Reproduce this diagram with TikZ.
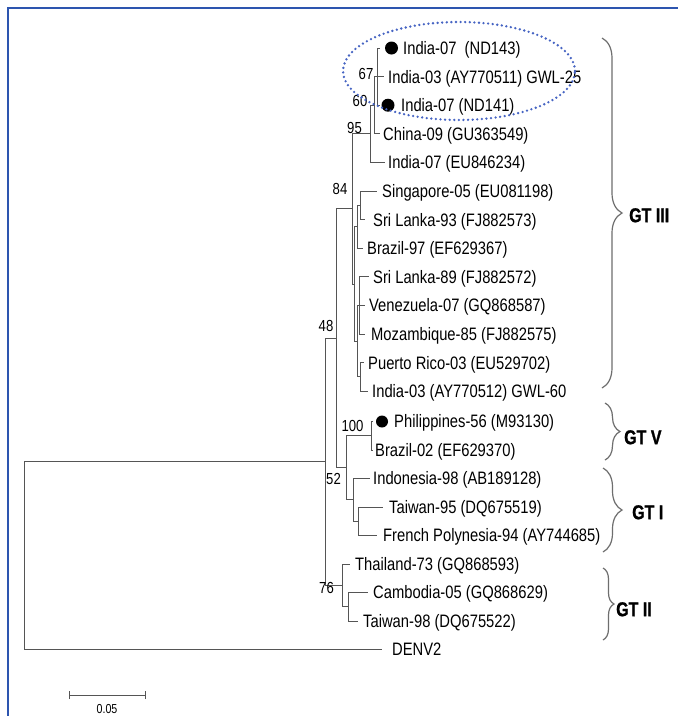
\documentclass[tikz,border=0pt]{standalone}
\usepackage{fontspec}
\setmainfont{Liberation Sans}
\newfontfamily\narrowfont{Liberation Sans}[FakeStretch=0.82]
\newfontfamily\gtfont{Liberation Sans Bold}[FakeStretch=0.80,FakeBold=1.2]
\usetikzlibrary{decorations.pathreplacing}
\definecolor{framebl}{RGB}{45,85,175}
\definecolor{ellbl}{RGB}{70,100,195}
\definecolor{brgray}{RGB}{110,110,110}
\definecolor{treegray}{RGB}{85,85,85}
\begin{document}
\begin{tikzpicture}[x=1pt,y=-1pt,
  br/.style={draw=treegray, line width=0.9pt},
  leaf/.style={anchor=west, inner sep=0pt, font=\narrowfont\fontsize{18}{18}\selectfont, text height=12.9pt, text depth=0pt},
  boot/.style={inner sep=0pt, font=\narrowfont\fontsize{16}{16}\selectfont},
  gt/.style={anchor=west, inner sep=0pt, font=\gtfont\fontsize{20}{20}\selectfont, text height=14.3pt, text depth=0pt},
  dotmark/.style={circle, fill=black, inner sep=0pt, minimum size=13pt},
  gbrace/.style={draw=brgray, line width=1.2pt, decorate, decoration={brace, amplitude=#1}},
]
\useasboundingbox (0,0) rectangle (678,716);
\fill[white] (0,0) rectangle (678,716);
% frame
\draw[framebl, line width=2pt] (8,716) -- (8,8) -- (678,8);

% internal nodes
\coordinate (root) at (24,555.7);
\coordinate (n48) at (325,461.9);
\coordinate (n84) at (336,338.4);
\coordinate (nA) at (352,208.9);
\coordinate (n95) at (370,133.8);
\coordinate (n60) at (374,105.2);
\coordinate (n67) at (377,76.6);
\coordinate (nB) at (354.5,283.95);
\coordinate (nP) at (357,226.75);
\coordinate (nG) at (360,205.3);
\coordinate (nQ) at (357.5,341.15);
\coordinate (nR) at (359,305.4);
\coordinate (nS) at (360,376.9);
\coordinate (nC) at (346,467.8);
\coordinate (n100) at (371,435.75);
\coordinate (nD) at (353,499.9);
\coordinate (nE) at (358,521.25);
\coordinate (n76) at (342,585.4);
\coordinate (nF) at (348,606.75);

% tips
\coordinate (t1) at (380,48);
\coordinate (t2) at (384,76.6);
\coordinate (t3) at (380,105.2);
\coordinate (t4) at (380,133.8);
\coordinate (t5) at (385,162.4);
\coordinate (t6) at (377,191);
\coordinate (t7) at (365,219.6);
\coordinate (t8) at (363,248.2);
\coordinate (t9) at (369,276.8);
\coordinate (t10) at (365,305.4);
\coordinate (t11) at (365,334);
\coordinate (t12) at (364,362.6);
\coordinate (t13) at (368,391.2);
\coordinate (t14) at (373,421.5);
\coordinate (t15) at (373,450);
\coordinate (t16) at (370,478.5);
\coordinate (t17) at (383,507);
\coordinate (t18) at (377,535.5);
\coordinate (t19) at (350,564);
\coordinate (t20) at (368,592.5);
\coordinate (t21) at (358,621);
\coordinate (t22) at (382,649.5);

% branches
\draw[br] (root) |- (n48);
\draw[br] (root) |- (t22);
\draw[br] (n48) |- (n84);
\draw[br] (n48) |- (n76);
\draw[br] (n84) |- (nA);
\draw[br] (n84) |- (nC);
\draw[br] (nA) |- (n95);
\draw[br] (nA) |- (nB);
\draw[br] (n95) |- (n60);
\draw[br] (n95) |- (t5);
\draw[br] (n60) |- (n67);
\draw[br] (n60) |- (t4);
\draw[br] (n67) |- (t1);
\draw[br] (n67) |- (t2);
\draw[br] (n67) |- (t3);
\draw[br] (nB) |- (nP);
\draw[br] (nB) |- (nQ);
\draw[br] (nP) |- (nG);
\draw[br] (nP) |- (t8);
\draw[br] (nG) |- (t6);
\draw[br] (nG) |- (t7);
\draw[br] (nQ) |- (nR);
\draw[br] (nQ) |- (nS);
\draw[br] (nR) |- (t9);
\draw[br] (nR) |- (t10);
\draw[br] (nR) |- (t11);
\draw[br] (nS) |- (t12);
\draw[br] (nS) |- (t13);
\draw[br] (nC) |- (n100);
\draw[br] (nC) |- (nD);
\draw[br] (n100) |- (t14);
\draw[br] (n100) |- (t15);
\draw[br] (nD) |- (t16);
\draw[br] (nD) |- (nE);
\draw[br] (nE) |- (t17);
\draw[br] (nE) |- (t18);
\draw[br] (n76) |- (t19);
\draw[br] (n76) |- (nF);
\draw[br] (nF) |- (t20);
\draw[br] (nF) |- (t21);

% dots
\node[dotmark] (d1) at (391.5,48) {};
\node[dotmark] (d3) at (388,105.2) {};
\node[dotmark, minimum size=12pt] (d14) at (382,421.5) {};

% leaf labels
\node[leaf] (l1) at (403,48) {India-07\ \ (ND143)};
\node[leaf] (l2) at (388,76.6) {India-03 (AY770511) GWL-25};
\node[leaf] (l3) at (401,105.2) {India-07 (ND141)};
\node[leaf] (l4) at (383,133.8) {China-09 (GU363549)};
\node[leaf] (l5) at (388,162.4) {India-07 (EU846234)};
\node[leaf] (l6) at (382,191) {Singapore-05 (EU081198)};
\node[leaf] (l7) at (373,219.6) {Sri Lanka-93 (FJ882573)};
\node[leaf] (l8) at (367,248.2) {Brazil-97 (EF629367)};
\node[leaf] (l9) at (373,276.8) {Sri Lanka-89 (FJ882572)};
\node[leaf] (l10) at (369,305.4) {Venezuela-07 (GQ868587)};
\node[leaf] (l11) at (371,334) {Mozambique-85 (FJ882575)};
\node[leaf] (l12) at (368,362.6) {Puerto Rico-03 (EU529702)};
\node[leaf] (l13) at (372,391.2) {India-03 (AY770512) GWL-60};
\node[leaf] (l14) at (394,421.5) {Philippines-56 (M93130)};
\node[leaf] (l15) at (375,450) {Brazil-02 (EF629370)};
\node[leaf] (l16) at (373,478.5) {Indonesia-98 (AB189128)};
\node[leaf] (l17) at (389,507) {Taiwan-95 (DQ675519)};
\node[leaf] (l18) at (383,535.5) {French Polynesia-94 (AY744685)};
\node[leaf] (l19) at (355,564) {Thailand-73 (GQ868593)};
\node[leaf] (l20) at (373,592.5) {Cambodia-05 (GQ868629)};
\node[leaf] (l21) at (363,621) {Taiwan-98 (DQ675522)};
\node[leaf] (l22) at (392,649.5) {DENV2};

% bootstrap values
\node[boot] (b67) at (366,74) {67};
\node[boot] (b60) at (360,101) {60};
\node[boot] (b95) at (354.5,128) {95};
\node[boot] (b84) at (340,189) {84};
\node[boot] (b48) at (326,326) {48};
\node[boot] (b100) at (352.5,425.5) {100};
\node[boot] (b52) at (333.5,479) {52};
\node[boot] (b76) at (326.5,587.5) {76};

% dotted ellipse
\draw[ellbl, line width=2.6pt, dash pattern=on 0pt off 4.6pt, line cap=round] (459,71) ellipse [x radius=116pt, y radius=49pt];

% braces
\coordinate (g3a) at (602,38);  \coordinate (g3b) at (602,388);
\coordinate (g5a) at (605,403); \coordinate (g5b) at (605,460);
\coordinate (g1a) at (603,468); \coordinate (g1b) at (603,552);
\coordinate (g2a) at (603,568); \coordinate (g2b) at (603,640);
\draw[gbrace=20pt] (g3a) -- (g3b);
\draw[gbrace=15pt] (g5a) -- (g5b);
\draw[gbrace=19pt] (g1a) -- (g1b);
\draw[gbrace=11pt] (g2a) -- (g2b);
\node[gt] (gt3) at (629,215) {GT III};
\node[gt] (gt5) at (624,437) {GT V};
\node[gt] (gt1) at (632,512) {GT I};
\node[gt] (gt2) at (616,609) {GT II};

% scale bar
\coordinate (sb1) at (69,695);
\coordinate (sb2) at (145,695);
\draw[treegray, line width=1pt] (sb1) -- (sb2);
\draw[treegray, line width=1pt] ([yshift=-4pt]sb1) -- ([yshift=4pt]sb1);
\draw[treegray, line width=1pt] ([yshift=-4pt]sb2) -- ([yshift=4pt]sb2);
\node[inner sep=0pt, font=\narrowfont\fontsize{13}{13}\selectfont] (sbl) at (107,709) {0.05};
\end{tikzpicture}
\end{document}
